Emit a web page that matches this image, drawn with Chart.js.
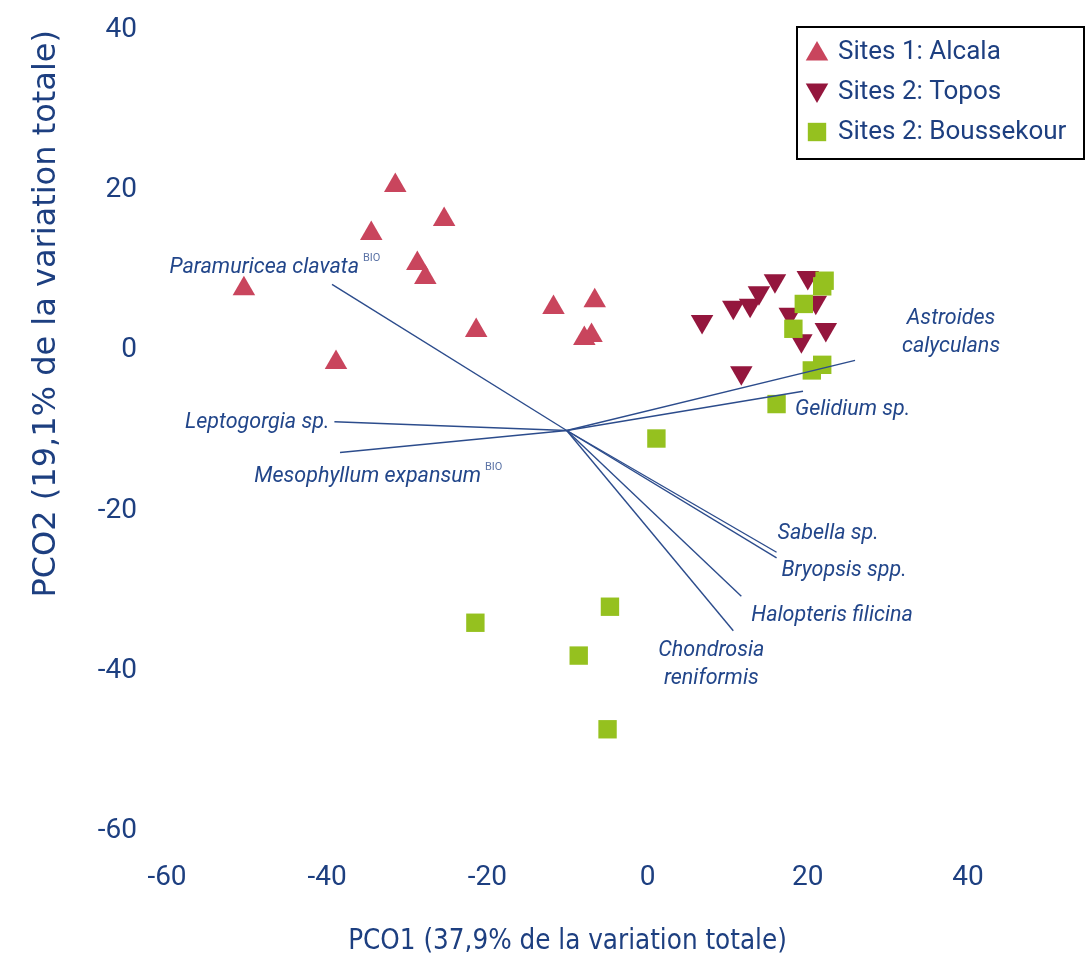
<!DOCTYPE html>
<html>
<head>
<meta charset="utf-8">
<script src="https://cdn.jsdelivr.net/npm/chart.js@4.4.0/dist/chart.umd.min.js"></script>
<style>
    body { margin: 0; background: #fff; }
    #wrap { position: relative; width: 1087px; height: 958px; }
</style>
</head>
<body>
<div id="wrap"><canvas id="pcoChart"></canvas></div>
<script>
// Site scores (PCO1, PCO2)
const alcalaX = [-31.5, -25.4, -34.5, -28.75, -27.75, -50.4, -38.9, -21.4, -11.75, -6.6, -7.0, -7.9];
const alcalaY = [20.6, 16.35, 14.6, 10.85, 9.1, 7.7, -1.5, 2.5, 5.35, 6.2, 1.85, 1.5];

const toposX = [6.8, 10.7, 12.8, 13.9, 15.9, 20.0, 21.0, 17.75, 22.25, 19.2, 11.7];
const toposY = [3.6, 5.4, 5.65, 7.2, 8.7, 9.1, 6.0, 4.5, 2.6, 1.2, -2.8];

const boussekourX = [22.1, 21.8, 19.5, 18.2, 21.8, 20.5, 16.1, 1.1, -4.7, -21.5, -8.6, -5.0];
const boussekourY = [8.7, 8.0, 5.8, 2.7, -1.8, -2.5, -6.7, -11.0, -32.0, -34.0, -38.1, -47.3];

// Species vectors (origin + end points)
const vectorOrigin = { x: -10.1, y: -10.0 };
const speciesNames = [
    ['Paramuricea clavata'],
    ['Leptogorgia sp.'],
    ['Mesophyllum expansum'],
    ['Astroides', 'calyculans'],
    ['Gelidium sp.'],
    ['Sabella sp.'],
    ['Bryopsis spp.'],
    ['Halopteris filicina'],
    ['Chondrosia', 'reniformis']
];
const speciesSup = ['BIO', '', 'BIO', '', '', '', '', '', ''];
const speciesX = [-39.4, -39.1, -38.4, 25.9, 19.4, 16.1, 16.1, 11.7, 10.7];
const speciesY = [8.25, -8.9, -12.75, -1.25, -5.1, -25.2, -25.9, -30.7, -35.0];

const xTicks = [-60, -40, -20, 0, 20, 40];
const yTicks = [-60, -40, -20, 0, 20, 40];

// label placement relative to vector tip (pixels)
const labelPlacement = [
    { dx: 27, dy: -17, align: 'right' },
    { dx: -5, dy: 1, align: 'right' },
    { dx: 141, dy: 24, align: 'right' },
    { dx: 96, dy: -42, align: 'center' },
    { dx: -8, dy: 18, align: 'left' },
    { dx: 1, dy: -19, align: 'left' },
    { dx: 5, dy: 13, align: 'left' },
    { dx: 10, dy: 19, align: 'left' },
    { dx: -22, dy: 20, align: 'center' }
];

const navy = '#1d3f80';
const labelBlue = '#22468a';

function toPoints(xs, ys) {
    return xs.map((x, i) => ({ x: x, y: ys[i] }));
}

// vector datasets
const vectorSets = speciesX.map((x, i) => ({
    label: speciesNames[i].join(' '),
    data: [{ x: vectorOrigin.x, y: vectorOrigin.y }, { x: x, y: speciesY[i] }],
    showLine: true,
    pointRadius: 0,
    borderColor: '#2c4c8c',
    borderWidth: 1.4,
    order: 0,
    isVector: true
}));

// draws the species names at the vector tips
const vectorLabels = {
    id: 'vectorLabels',
    afterDatasetsDraw(chart) {
        const ctx = chart.ctx;
        const xs = chart.scales.x, ys = chart.scales.y;
        ctx.save();
        speciesNames.forEach((lines, i) => {
            const p = labelPlacement[i];
            const px = xs.getPixelForValue(speciesX[i]) + p.dx;
            let py = ys.getPixelForValue(speciesY[i]) + p.dy;
            ctx.font = 'italic 21.5px Roboto';
            ctx.fillStyle = labelBlue;
            ctx.textAlign = p.align;
            ctx.textBaseline = 'middle';
            lines.forEach((t, j) => {
                ctx.fillText(t, px, py + j * 28);
            });
            if (speciesSup[i]) {
                ctx.font = '11px Roboto';
                ctx.fillStyle = '#5b73a6';
                ctx.textAlign = 'left';
                ctx.fillText(speciesSup[i], px + 4, py - 9);
            }
        });
        ctx.restore();
    }
};

// boxed legend in the top right corner
const boxLegend = {
    id: 'boxLegend',
    afterDraw(chart) {
        const ctx = chart.ctx;
        const sets = chart.data.datasets.filter(d => !d.isVector);
        const left = 797, top = 27, w = 287, h = 132;
        ctx.save();
        ctx.fillStyle = '#fff';
        ctx.fillRect(left, top, w, h);
        ctx.strokeStyle = '#000';
        ctx.lineWidth = 2;
        ctx.strokeRect(left, top, w, h);
        sets.forEach((d, i) => {
            const cy = top + 25 + i * 40;
            ctx.fillStyle = d.backgroundColor;
            Chart.helpers.drawPoint(ctx, {
                pointStyle: d.pointStyle,
                radius: d.pointRadius,
                rotation: d.rotation || 0,
                borderWidth: 0
            }, left + 20, cy + (d.pointStyle === 'triangle' ? (d.rotation ? -2 : 2) : 0));
            ctx.fillStyle = navy;
            ctx.font = '26px Roboto';
            ctx.textAlign = 'left';
            ctx.textBaseline = 'middle';
            ctx.fillText(d.label, left + 41, cy);
        });
        ctx.restore();
    }
};

const ctx = document.getElementById('pcoChart').getContext('2d');
new Chart(ctx, {
    type: 'scatter',
    data: {
        datasets: [
            {
                label: 'Sites 1: Alcala',
                data: toPoints(alcalaX, alcalaY),
                pointStyle: 'triangle',
                pointRadius: 13,
                backgroundColor: '#c9455d',
                borderWidth: 0,
                order: 3
            },
            {
                label: 'Sites 2: Topos',
                data: toPoints(toposX, toposY),
                pointStyle: 'triangle',
                rotation: 180,
                pointRadius: 13,
                backgroundColor: '#94163d',
                borderWidth: 0,
                order: 2
            },
            {
                label: 'Sites 2: Boussekour',
                data: toPoints(boussekourX, boussekourY),
                pointStyle: 'rect',
                pointRadius: 13,
                backgroundColor: '#95c11f',
                borderWidth: 0,
                order: 1
            }
        ].concat(vectorSets)
    },
    options: {
        responsive: true,
        maintainAspectRatio: false,
        animation: false,
        events: [],
        clip: false,
        layout: {
            padding: { top: 30, right: 119, left: 0, bottom: 0 }
        },
        plugins: {
            legend: { display: false },
            tooltip: { enabled: false }
        },
        scales: {
            x: {
                type: 'linear',
                min: -60,
                max: 40,
                afterBuildTicks: function(scale) {
                    scale.ticks = xTicks.map(v => ({ value: v }));
                },
                afterFit: function(scale) {
                    scale.height = 127;
                    scale.paddingLeft = 0;
                    scale.paddingRight = 0;
                },
                grid: { display: false, drawTicks: false },
                border: { display: false },
                ticks: {
                    padding: 30,
                    color: navy,
                    font: { family: 'Roboto', size: 28 }
                },
                title: {
                    display: true,
                    text: 'PCO1 (37,9% de la variation totale)',
                    color: navy,
                    padding: { top: 0, bottom: 0 },
                    font: { family: "'Liberation Sans Narrow', 'DejaVu Sans Condensed', Roboto", size: 27.5 }
                }
            },
            y: {
                type: 'linear',
                min: -60,
                max: 40,
                afterBuildTicks: function(scale) {
                    scale.ticks = yTicks.map(v => ({ value: v }));
                },
                afterFit: function(scale) {
                    scale.width = 167;
                    scale.paddingTop = 0;
                    scale.paddingBottom = 0;
                },
                grid: { display: false, drawTicks: false },
                border: { display: false },
                ticks: {
                    padding: 30,
                    color: navy,
                    font: { family: 'Roboto', size: 28 }
                },
                title: {
                    display: true,
                    text: 'PCO2 (19,1% de la variation totale)',
                    align: 'end',
                    color: navy,
                    padding: { top: 27, bottom: 0 },
                    font: { family: "'DejaVu Sans'", size: 32 }
                }
            }
        }
    },
    plugins: [vectorLabels, boxLegend]
});
</script>
</body>
</html>
